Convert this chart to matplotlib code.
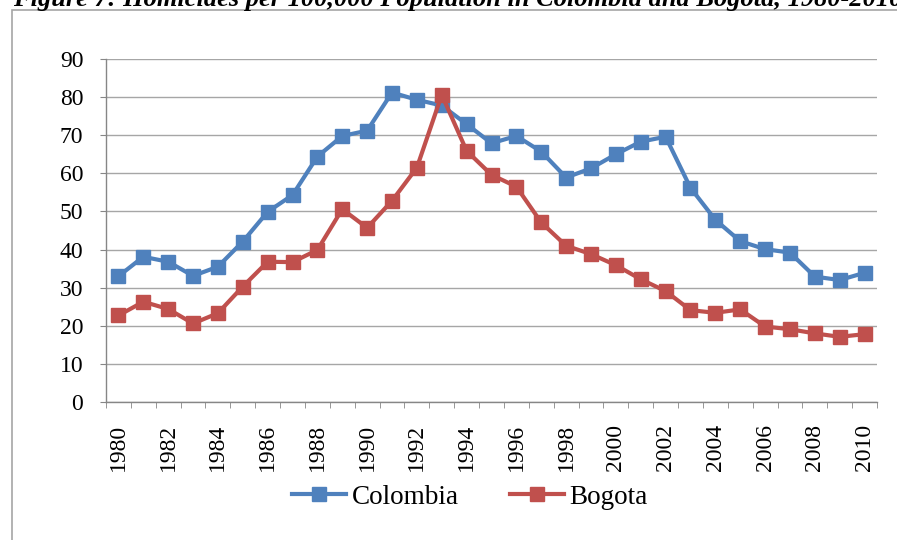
import numpy as np
import matplotlib
matplotlib.use("Agg")
import matplotlib.pyplot as plt
from matplotlib.patches import Rectangle
from matplotlib.ticker import MultipleLocator, FixedLocator

# homicides per 100,000
years = list(range(1980, 2011))
colombia = [33.0, 38.1, 36.8, 33.1, 35.5, 42.1, 49.9, 54.3, 64.4, 69.8,
            71.2, 81.2, 79.3, 77.8, 72.9, 67.9, 69.8, 65.7, 58.9, 61.3,
            65.0, 68.3, 69.6, 56.2, 47.8, 42.2, 40.1, 39.2, 32.9, 32.0, 33.9]
bogota = [22.7, 26.3, 24.4, 20.6, 23.3, 30.3, 36.8, 36.7, 39.9, 50.6,
          45.7, 52.8, 61.5, 80.6, 65.9, 59.6, 56.5, 47.1, 41.0, 38.8,
          35.9, 32.2, 29.1, 24.1, 23.4, 24.3, 19.8, 19.1, 18.0, 17.1, 17.8]
title = "Figure 7: Homicides per 100,000 Population in Colombia and Bogota, 1980-2010"

plt.rcParams['font.family'] = ['Liberation Serif', 'DejaVu Serif']

W, H = 897, 540
fig = plt.figure(figsize=(W/100, H/100), dpi=100)

# outer chart frame (runs off the right and bottom of the crop)
fig.patches.append(Rectangle((12/W, -0.1), 1.2, 1 - 10/H + 0.1, transform=fig.transFigure,
                             fill=False, edgecolor='#a6a6a6', linewidth=1.2))
# title is cropped at the top in the source image
fig.text(13/W, 1 - 6/H, title, fontsize=19, fontweight='bold', fontstyle='italic',
         va='baseline', ha='left')

ax = fig.add_axes([106/W, 1 - 402/H, (877-106)/W, (402-59)/H])
ax.plot(years, colombia, color='#4f81bd', lw=3, marker='s', ms=10.5, label='Colombia', zorder=3)
ax.plot(years, bogota, color='#c0504d', lw=3, marker='s', ms=10.5, label='Bogota', zorder=4)

ax.set_xlim(1979.5, 2010.5)
ax.set_ylim(0, 90)
ax.yaxis.set_major_locator(MultipleLocator(10))
ax.xaxis.set_major_locator(FixedLocator(years[::2]))
ax.xaxis.set_minor_locator(FixedLocator(np.arange(1979.5, 2011, 1)))
ax.grid(axis='y', color='#a6a6a6', lw=1)
ax.set_axisbelow(True)
for s in ['top', 'right']:
    ax.spines[s].set_visible(False)
for s in ['left', 'bottom']:
    ax.spines[s].set_color('#868686')
    ax.spines[s].set_linewidth(1)
ax.tick_params(axis='y', length=4.3, color='#868686', pad=12, labelsize=17)
ax.tick_params(axis='x', which='major', length=0, pad=16, labelsize=17, labelrotation=90)
ax.tick_params(axis='x', which='minor', length=4.3, color='#868686')

fig.legend(loc='center', bbox_to_anchor=(470/W, 1 - 497/H), ncol=2, frameon=False,
           fontsize=19.5, handlelength=2.0, handletextpad=0.2, columnspacing=1.9)

fig.savefig('out.png', dpi=100)
